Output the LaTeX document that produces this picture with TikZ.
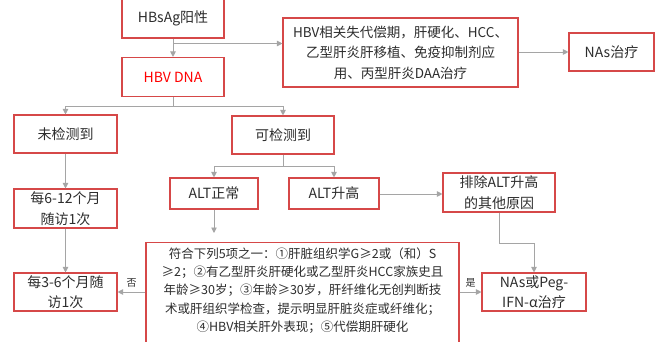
\documentclass[tikz,border=0pt]{standalone}
\usepackage{fontspec}
\setmainfont{Noto Sans CJK SC}
\usetikzlibrary{arrows.meta,calc}
\definecolor{boxred}{RGB}{214,72,72}
\definecolor{linegray}{RGB}{165,165,165}
\definecolor{txt}{RGB}{45,45,45}
\begin{document}
\begin{tikzpicture}[x=1pt,y=-1pt,
  box/.style={draw=boxred,line width=1.1pt,fill=white,text=txt,align=center,
    inner sep=2pt,font=\fontsize{14}{20.5}\selectfont},
  arr/.style={draw=linegray,line width=0.9pt,-{Triangle[width=5.5pt,length=5.5pt]}},
  ln/.style={draw=linegray,line width=0.9pt},
  lbl/.style={text=txt,font=\fontsize{10}{12}\selectfont}]
\useasboundingbox (0,0) rectangle (660,342);
\fill[white] (0,0) rectangle (660,342);
% nodes
\node[box,minimum width=102pt,minimum height=39pt] (hbsag) at (173,18.5) {HBsAg阳性};
\node[box,minimum width=102pt,minimum height=39pt,text=red] (dna) at (173,77) {HBV DNA};
\node[box,minimum width=235pt,minimum height=69pt,font=\fontsize{13.5}{20.5}\selectfont] (comp) at (400.5,52.5)
  {HBV相关失代偿期，肝硬化、HCC、\\乙型肝炎肝移植、免疫抑制剂应\\用、丙型肝炎DAA治疗};
\node[box,minimum width=85pt,minimum height=38pt] (nas) at (611.5,52) {NAs治疗};
\node[box,minimum width=103pt,minimum height=38pt] (undet) at (65.5,134) {未检测到};
\node[box,minimum width=102pt,minimum height=38pt] (det) at (283,135) {可检测到};
\node[box,minimum width=88pt,minimum height=31pt] (altn) at (214,193.5) {ALT正常};
\node[box,minimum width=90pt,minimum height=31pt] (alth) at (334,193.5) {ALT升高};
\node[box,minimum width=112pt,minimum height=39pt] (excl) at (499,192.5) {排除ALT升高\\的其他原因};
\node[box,minimum width=103pt,minimum height=39pt] (fu612) at (65.5,208.5) {每6-12个月\\随访1次};
\node[box,minimum width=103pt,minimum height=38pt] (fu36) at (65.5,292) {每3-6个月随\\访1次};
\node[box,minimum width=104pt,minimum height=38pt] (peg) at (534,292) {NAs或Peg-\\IFN-α治疗};
\node[box,anchor=north,minimum width=313pt,inner ysep=5pt,
  font=\fontsize{12.5}{18.3}\selectfont] (crit) at (302.5,242)
  {符合下列5项之一：①肝脏组织学G≥2或（和）S\\
   ≥2；②有乙型肝炎肝硬化或乙型肝炎HCC家族史且\\
   年龄≥30岁；③年龄≥30岁，肝纤维化无创判断技\\
   术或肝组织学检查，提示明显肝脏炎症或纤维化；\\
   ④HBV相关肝外表现；⑤代偿期肝硬化\rule[-14pt]{0pt}{0pt}};
% connectors
\coordinate (b1) at (173,43.5);
\coordinate (b2) at (173,106);
\coordinate (b3) at (283,166);
\coordinate (b4) at (499,243);
\draw[arr] (hbsag.south) -- (dna.north);
\draw[arr] (b1) -- (b1 -| comp.west);
\draw[arr] (comp.east |- nas.west) -- (nas.west);
\draw[ln] (dna.south) -- (b2);
\draw[arr] (b2) -| (undet.north);
\draw[arr] (b2) -| (det.north);
\draw[ln] (det.south) -- (b3);
\draw[arr] (b3) -| (altn.north);
\draw[arr] (b3) -| (alth.north);
\draw[arr] (alth.east |- 0,194) -- (excl.west |- 0,194);
\draw[ln] (excl.south) -- (b4);
\draw[arr] (b4) -| (peg.north);
\draw[arr,shorten >=9pt] (altn.south) -- (crit.north -| altn.south);
\draw[arr] (undet.south) -- (fu612.north);
\draw[arr] (fu612.south) -- (fu36.north);
\draw[arr] (crit.west |- fu36.east) -- node[lbl,above=1pt] {否} (fu36.east);
\draw[arr] (crit.east |- peg.west) -- node[lbl,above=1pt] {是} (peg.west);
\end{tikzpicture}
\end{document}
